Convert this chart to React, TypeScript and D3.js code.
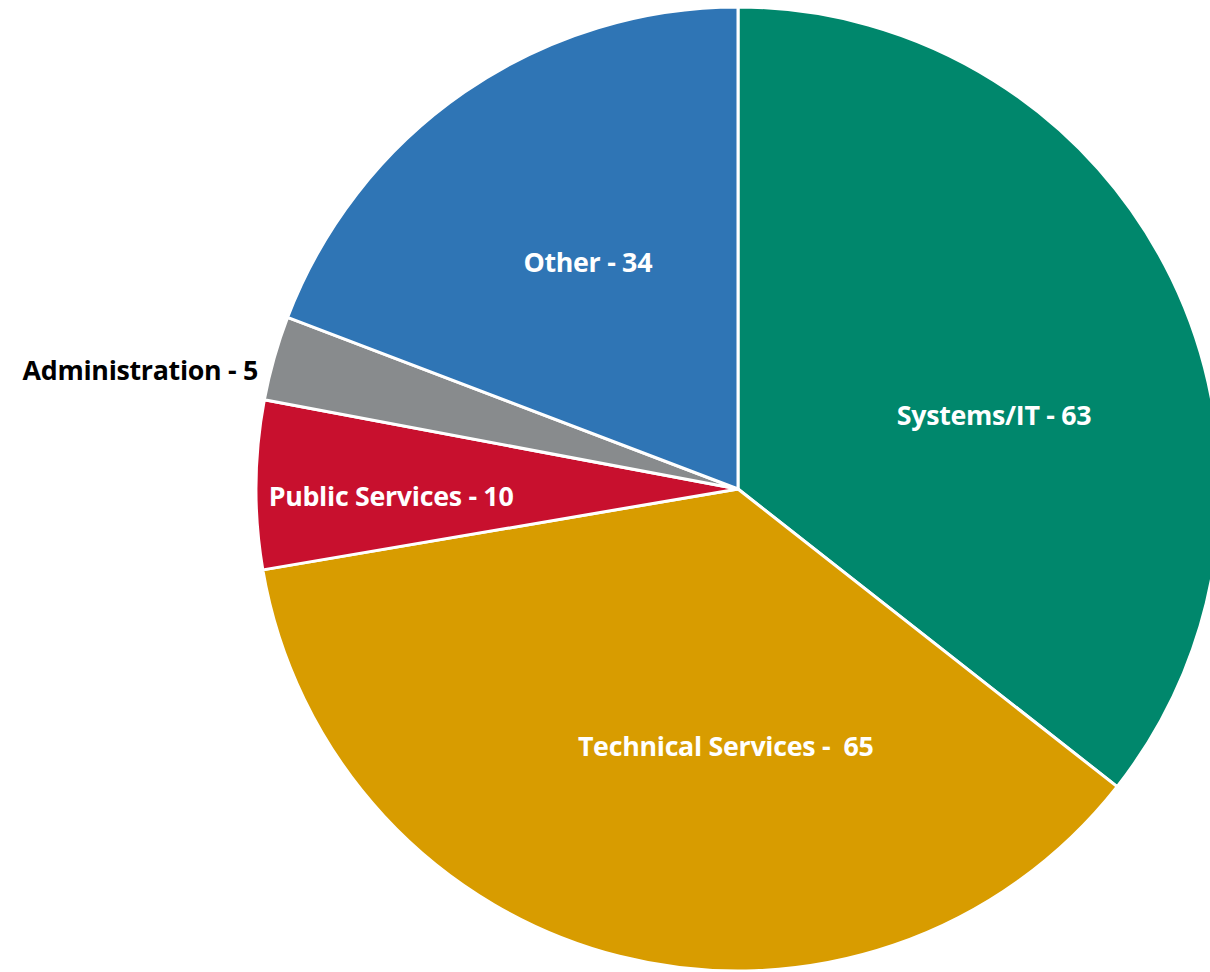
import React from "react";
import * as d3 from "d3";

const categories = ["Systems/IT", "Technical Services", "Public Services", "Administration", "Other"];
const values = [63, 65, 10, 5, 34];
const labels = ["Systems/IT - 63", "Technical Services -  65", "Public Services - 10", "Administration - 5", "Other - 34"];
const colors = ["#00876C", "#D89C00", "#C8102E", "#888B8D", "#2F75B5"];

// label layout: [angle offset (deg), radius fraction, anchor, inside]
const labelLayout: [number, number, string, boolean][] = [
  [9.8, 0.553, "middle", true],
  [-11.5, 0.532, "middle", true],
  [-1.5, 0.72, "middle", true],
  [-1.8, 1.026, "end", false],
  [1.1, 0.565, "middle", true],
];

const W = 1210;
const H = 972;
const cx = 738;
const cy = 489;
const R = 482;

export default function App() {
  const pie = d3.pie<number>().sort(null).value((d) => d);
  const arcs = pie(values);
  const arcGen = d3.arc<d3.PieArcDatum<number>>().innerRadius(0).outerRadius(R);

  return (
    <svg width={W} height={H} style={{ position: "absolute", left: 0, top: 0, background: "#fff" }}>
      <g transform={`translate(${cx},${cy})`}>
        {arcs.map((a, i) => (
          <path key={categories[i]} d={arcGen(a) || ""} fill={colors[i]} stroke="#fff" strokeWidth={3} strokeLinejoin="round" />
        ))}
        {arcs.map((a, i) => {
          const [dAng, rf, anchor, inside] = labelLayout[i];
          const mid = (a.startAngle + a.endAngle) / 2 + (dAng * Math.PI) / 180;
          const x = Math.sin(mid) * R * rf;
          const y = -Math.cos(mid) * R * rf;
          return (
            <text
              key={labels[i]}
              x={x}
              y={y}
              textAnchor={anchor as any}
              dominantBaseline="central"
              fill={inside ? "#fff" : "#000"}
              style={{ fontFamily: "'Open Sans', Lato, sans-serif", fontWeight: 700, fontSize: 26.8, whiteSpace: "pre", letterSpacing: -0.3 }}
            >
              {labels[i]}
            </text>
          );
        })}
      </g>
    </svg>
  );
}
